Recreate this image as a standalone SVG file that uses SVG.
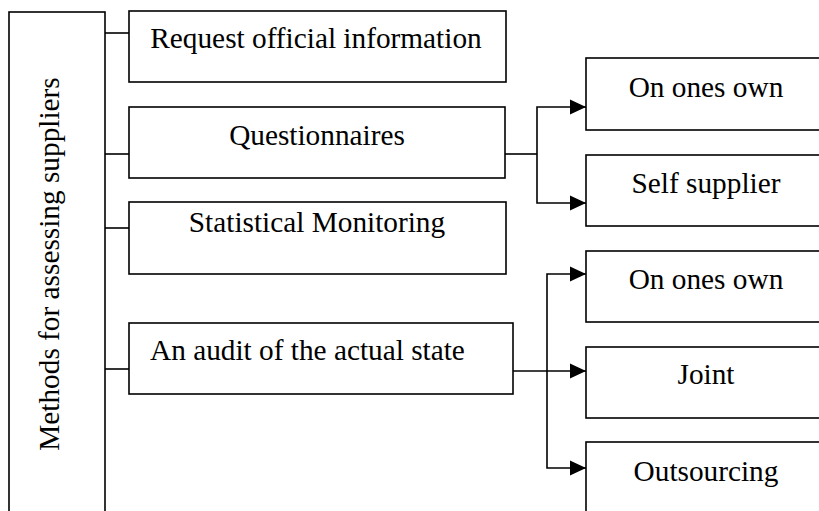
<svg xmlns="http://www.w3.org/2000/svg" width="819" height="511" viewBox="0 0 819 511">
<style>
.box{fill:#fff;stroke:#000;stroke-width:1.6}
.t{font-family:"Liberation Serif","Times New Roman",serif;font-size:29.3px;fill:#000}
.c{text-anchor:middle}
.ln{fill:none;stroke:#000;stroke-width:1.6}
</style>
<defs>
<marker id="ar" markerWidth="16" markerHeight="16" viewBox="0 0 16 16" refX="16" refY="8" orient="auto" markerUnits="userSpaceOnUse">
<path d="M0,0.5 L16,8 L0,15.5 Z" fill="#000"/>
</marker>
</defs>
<g id="root">
<rect class="box" x="9" y="12" width="96" height="510"/>
<text class="t c" x="59" y="264" transform="rotate(-90 59 264)">Methods for assessing suppliers</text>
</g>
<g id="n-request">
<rect class="box" x="129" y="11" width="377" height="71"/>
<text class="t c" x="316" y="48">Request official information</text>
</g>
<g id="n-quest">
<rect class="box" x="129" y="107" width="376" height="71"/>
<text class="t c" x="317" y="145">Questionnaires</text>
</g>
<g id="n-stat">
<rect class="box" x="129" y="202" width="377" height="72"/>
<text class="t c" x="317" y="232">Statistical Monitoring</text>
</g>
<g id="n-audit">
<rect class="box" x="129" y="323" width="384" height="71"/>
<text class="t" x="150" y="360">An audit of the actual state</text>
</g>
<g id="n-own1">
<rect class="box" x="586" y="58" width="250" height="72"/>
<text class="t c" x="706" y="97">On ones own</text>
</g>
<g id="n-self">
<rect class="box" x="586" y="155" width="250" height="71"/>
<text class="t c" x="706" y="193">Self supplier</text>
</g>
<g id="n-own2">
<rect class="box" x="586" y="251" width="250" height="71"/>
<text class="t c" x="706" y="289">On ones own</text>
</g>
<g id="n-joint">
<rect class="box" x="586" y="347" width="250" height="71"/>
<text class="t c" x="706" y="384">Joint</text>
</g>
<g id="n-out">
<rect class="box" x="586" y="442" width="250" height="80"/>
<text class="t c" x="706" y="481">Outsourcing</text>
</g>
<g id="connectors">
<path class="ln" d="M105,33 H129"/>
<path class="ln" d="M105,154 H129"/>
<path class="ln" d="M105,228 H129"/>
<path class="ln" d="M105,369 H129"/>
<path class="ln" d="M505,154 H537"/>
<path class="ln" d="M537,154 V107 H586" marker-end="url(#ar)"/>
<path class="ln" d="M537,154 V203 H586" marker-end="url(#ar)"/>
<path class="ln" d="M513,371 H586" marker-end="url(#ar)"/>
<path class="ln" d="M547,371 V274 H586" marker-end="url(#ar)"/>
<path class="ln" d="M547,371 V468 H586" marker-end="url(#ar)"/>
</g>
</svg>
